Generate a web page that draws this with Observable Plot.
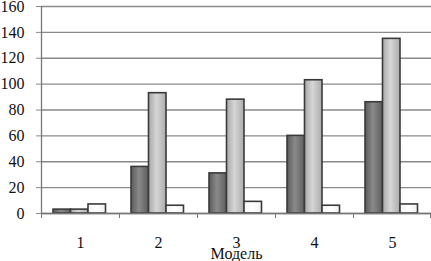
<!DOCTYPE html>
<html><head><meta charset="utf-8">
<script src="https://cdn.jsdelivr.net/npm/d3@7"></script>
<script src="https://cdn.jsdelivr.net/npm/@observablehq/plot@0.6"></script>
<style>body{margin:0;background:#fff} svg{display:block} svg text{font-family:"Liberation Serif","Times New Roman",serif !important;}</style>
</head><body><div id="chart"></div>
<script>
const models = ["1", "2", "3", "4", "5"];
const seriesA = [3, 36, 31, 60, 86];
const seriesB = [3, 93, 88, 103, 135];
const seriesC = [7, 6, 9, 6, 7];
const yTicks = [0, 20, 40, 60, 80, 100, 120, 140, 160];
const xLabel = "Модель";

const W = 431, H = 261, ML = 41, MR = 0;
const bw = (W - ML - MR) / models.length;
const font = "Liberation Serif";
const barStyle = {stroke: "#3a3a3a", strokeWidth: 1.6};

const plot = Plot.plot({
  width: W, height: H,
  marginLeft: ML, marginRight: MR, marginTop: 6, marginBottom: 48,
  style: {fontFamily: font, fontSize: "16px", color: "#111", background: "#fff"},
  x: {domain: models, padding: 0, axis: null},
  y: {domain: [0, 160], axis: null},
  marks: [
    Plot.gridY(yTicks, {stroke: "#8a8a8a", strokeOpacity: 1, strokeWidth: 1.3}),
    Plot.axisY(yTicks, {tickSize: 5, tickPadding: 12, stroke: "#8a8a8a", fontSize: 16, fontFamily: font, label: null}),
    Plot.ruleX([models[0]], {dx: -bw / 2, stroke: "#777", strokeWidth: 1.3}),
    Plot.barY(models, {x: d => d, y: (d, i) => seriesA[i], fill: "url(#gA)", ...barStyle, insetLeft: 12, insetRight: bw - 29.5}),
    Plot.barY(models, {x: d => d, y: (d, i) => seriesB[i], fill: "url(#gB)", ...barStyle, insetLeft: 29.5, insetRight: bw - 47}),
    Plot.barY(models, {x: d => d, y: (d, i) => seriesC[i], fill: "url(#gC)", ...barStyle, insetLeft: 47, insetRight: bw - 64.5}),
    Plot.ruleY([0], {stroke: "#777", strokeWidth: 1.3}),
    Plot.axisX(models, {tickSize: 5, text: null, label: null, dx: -bw / 2, stroke: "#777"}),
    Plot.axisX([models[models.length - 1]], {tickSize: 5, text: null, label: null, dx: bw / 2 - 1, stroke: "#777"}),
    Plot.axisX(models, {tickSize: 0, tickPadding: 23, fontSize: 16, fontFamily: font, label: xLabel, labelAnchor: "center", labelOffset: 45, labelArrow: "none"})
  ]
});

const defs = d3.select(plot).insert("defs", ":first-child");
function grad(id, stops) {
  const g = defs.append("linearGradient").attr("id", id).attr("x1", "0").attr("x2", "1").attr("y1", "0").attr("y2", "0");
  stops.forEach(([o, c]) => g.append("stop").attr("offset", o).attr("stop-color", c));
}
grad("gA", [[0, "#5a5a5a"], [0.45, "#8a8a8a"], [1, "#5e5e5e"]]);
grad("gB", [[0, "#a8a8a8"], [0.45, "#d6d6d6"], [1, "#acacac"]]);
grad("gC", [[0, "#f4f4f4"], [0.5, "#ffffff"], [1, "#f0f0f0"]]);

document.getElementById("chart").appendChild(plot);
</script>
</body></html>
